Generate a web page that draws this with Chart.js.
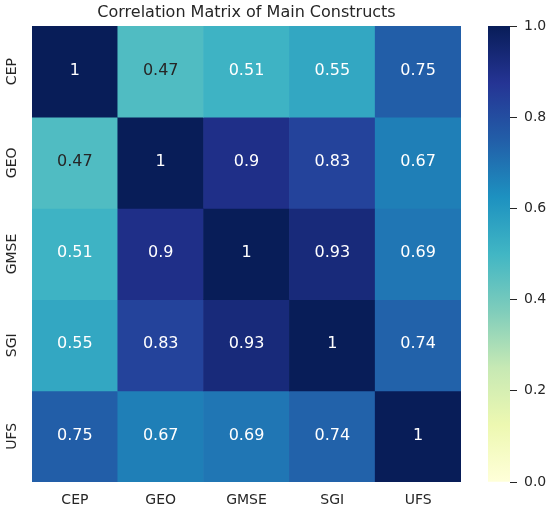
<!DOCTYPE html>
<html>
<head>
<meta charset="utf-8">
<script src="https://cdn.jsdelivr.net/npm/chart.js@4"></script>
<style>
    html, body { margin: 0; padding: 0; background: #fff; }
    #contenedor { position: relative; width: 550px; height: 513px; }
    #grafica { position: absolute; left: 0; top: 0; }
    #barra { position: absolute; left: 480px; top: 0; }
</style>
</head>
<body>
<div id="contenedor">
    <canvas id="grafica" width="493" height="513"></canvas>
    <canvas id="barra" width="70" height="513"></canvas>
</div>
<script>
const constructos = ['CEP', 'GEO', 'GMSE', 'SGI', 'UFS'];

const filaCEP  = [1, 0.47, 0.51, 0.55, 0.75];
const filaGEO  = [0.47, 1, 0.9, 0.83, 0.67];
const filaGMSE = [0.51, 0.9, 1, 0.93, 0.69];
const filaSGI  = [0.55, 0.83, 0.93, 1, 0.74];
const filaUFS  = [0.75, 0.67, 0.69, 0.74, 1];

const ticksBarra = [0, 0.2, 0.4, 0.6, 0.8, 1.0];

const matriz = [filaCEP, filaGEO, filaGMSE, filaSGI, filaUFS];

// YlGnBu (matplotlib), 9 paradas equiespaciadas
const paradas = ['#ffffd9', '#edf8b1', '#c7e9b4', '#7fcdbb', '#41b6c4',
                 '#1d91c0', '#225ea8', '#253494', '#081d58'];
const paradasRgb = paradas.map(h => [1, 3, 5].map(i => parseInt(h.substr(i, 2), 16) / 255));

const fuente = '"DejaVu Sans", "Liberation Sans", sans-serif';
const gris = '#262626';

function colorDe(v) {
    const t = Math.min(Math.max(v, 0), 1) * (paradasRgb.length - 1);
    const i = Math.min(Math.floor(t), paradasRgb.length - 2);
    const f = t - i;
    return paradasRgb[i].map((c, k) => c + (paradasRgb[i + 1][k] - c) * f);
}

function aCss(rgb) {
    return 'rgb(' + rgb.map(c => Math.round(c * 255)).join(',') + ')';
}

// misma regla que seaborn para el color del texto
function luminancia(rgb) {
    const lin = rgb.map(c => c <= 0.03928 ? c / 12.92 : Math.pow((c + 0.055) / 1.055, 2.4));
    return 0.2126 * lin[0] + 0.7152 * lin[1] + 0.0722 * lin[2];
}

const textoCeldas = {
    id: 'textoCeldas',
    afterDatasetsDraw(chart) {
        const ctx = chart.ctx;
        ctx.save();
        ctx.font = '16px ' + fuente;
        ctx.textAlign = 'center';
        ctx.textBaseline = 'middle';
        chart.data.datasets.forEach((ds, r) => {
            chart.getDatasetMeta(r).data.forEach((barra, c) => {
                const v = matriz[r][c];
                ctx.fillStyle = luminancia(colorDe(v)) > 0.408 ? gris : '#ffffff';
                ctx.fillText(String(v), barra.x, (barra.y + barra.base) / 2 - 1);
            });
        });

        // etiquetas del eje y, giradas
        const escalaY = chart.scales.y;
        ctx.font = '14px ' + fuente;
        ctx.fillStyle = gris;
        constructos.forEach((nombre, r) => {
            ctx.save();
            ctx.translate(chart.chartArea.left - 20, escalaY.getPixelForValue(r + 0.5));
            ctx.rotate(-Math.PI / 2);
            ctx.fillText(nombre, 0, 0);
            ctx.restore();
        });
        ctx.restore();
    }
};

const $grafica = document.querySelector('#grafica');
new Chart($grafica, {
    type: 'bar',
    data: {
        labels: constructos,
        datasets: matriz.map((fila, r) => ({
            label: constructos[r],
            data: fila.map(() => [r, r + 1]),
            backgroundColor: fila.map(v => aCss(colorDe(v))),
            borderWidth: 0,
            barPercentage: 1,
            categoryPercentage: 1,
            grouped: false
        }))
    },
    options: {
        responsive: false,
        animation: false,
        layout: { padding: { left: 32, right: 32, top: 0, bottom: 0 } },
        plugins: {
            legend: { display: false },
            tooltip: { enabled: false },
            title: {
                display: true,
                text: 'Correlation Matrix of Main Constructs',
                color: gris,
                font: { family: fuente, size: 16, weight: 'normal' },
                padding: { top: 3.5, bottom: 3.3 }
            }
        },
        scales: {
            x: {
                grid: { display: false, drawTicks: false },
                border: { display: false },
                ticks: { color: gris, font: { family: fuente, size: 14 }, padding: 10 },
                afterFit: s => { s.height = 31; }
            },
            y: { display: false, min: 0, max: 5, reverse: true }
        }
    },
    plugins: [textoCeldas]
});

const $barra = document.querySelector('#barra');
new Chart($barra, {
    type: 'bar',
    data: {
        labels: [''],
        datasets: [{
            data: [[ticksBarra[0], ticksBarra[ticksBarra.length - 1]]],
            backgroundColor: c => {
                const area = c.chart.chartArea;
                if (!area) return paradas[4];
                const grad = c.chart.ctx.createLinearGradient(0, area.bottom, 0, area.top);
                paradas.forEach((p, i) => grad.addColorStop(i / (paradas.length - 1), p));
                return grad;
            },
            borderWidth: 0,
            barPercentage: 1,
            categoryPercentage: 1
        }]
    },
    options: {
        responsive: false,
        animation: false,
        layout: { padding: { left: 8, right: 0, top: 26, bottom: 31 } },
        plugins: { legend: { display: false }, tooltip: { enabled: false } },
        scales: {
            x: { display: false },
            y: {
                position: 'right',
                min: 0,
                max: 1,
                afterBuildTicks: s => { s.ticks = ticksBarra.map(v => ({ value: v })); },
                grid: { drawOnChartArea: false, drawTicks: true, tickLength: 7, color: gris },
                border: { display: false },
                ticks: {
                    color: gris,
                    font: { family: fuente, size: 14 },
                    padding: 7,
                    callback: v => v.toFixed(1)
                },
                afterFit: s => { s.width = 40; }
            }
        }
    }
});
</script>
</body>
</html>
